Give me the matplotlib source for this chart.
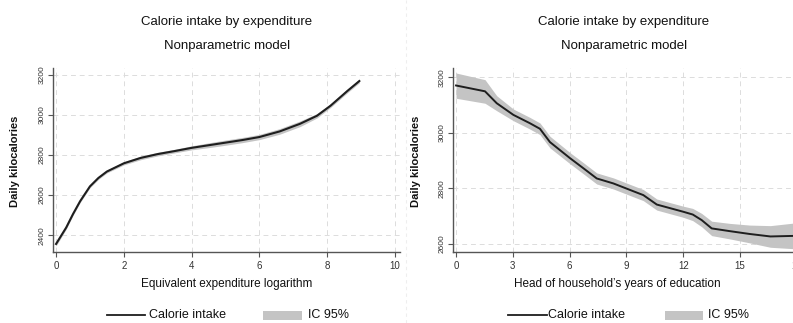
import matplotlib
matplotlib.use("Agg")
import matplotlib.pyplot as plt
from matplotlib.lines import Line2D
import numpy as np

plt.rcParams['font.family'] = ['Liberation Sans', 'DejaVu Sans']

# ---- Left panel: calorie intake by log equivalent expenditure ----
exp_x = [0.0, 0.3, 0.5, 0.71, 1.0, 1.25, 1.5, 2.0, 2.5, 3.0, 3.5, 4.0, 4.5,
         5.0, 5.5, 6.0, 6.6, 7.2, 7.7, 8.1, 8.6, 8.95]
exp_y = [2356, 2438, 2505, 2569, 2643, 2685, 2717, 2758, 2785, 2804, 2819,
         2835, 2848, 2861, 2874, 2889, 2917, 2955, 2995, 3045, 3119, 3168]
exp_lo = [2346, 2430, 2498, 2562, 2636, 2678, 2710, 2750, 2776, 2795, 2810,
          2825, 2836, 2848, 2861, 2876, 2903, 2941, 2984, 3036, 3110, 3159]
exp_hi = [2366, 2446, 2512, 2576, 2650, 2692, 2724, 2766, 2794, 2813, 2828,
          2845, 2860, 2874, 2887, 2902, 2931, 2969, 3006, 3054, 3128, 3177]

# ---- Right panel: calorie intake by head of household's years of education ----
edu_x = [0.0, 1.53, 2.15, 3.03, 3.9, 4.43, 4.96, 6.02, 6.72, 7.43, 8.31, 9.36,
         9.89, 10.6, 12.0, 12.5, 12.97, 13.5, 14.47, 15.5, 16.6, 17.8]
edu_y = [3171, 3150, 3107, 3065, 3035, 3015, 2967, 2909, 2873, 2836, 2818, 2790,
         2776, 2742, 2716, 2706, 2686, 2656, 2646, 2636, 2627, 2629]
edu_lo = [3125, 3107, 3080, 3044, 3014, 2994, 2946, 2889, 2853, 2816, 2798, 2770,
          2756, 2722, 2696, 2684, 2662, 2630, 2618, 2604, 2588, 2583]
edu_hi = [3216, 3192, 3134, 3086, 3056, 3036, 2988, 2929, 2893, 2856, 2838, 2810,
          2796, 2762, 2736, 2728, 2710, 2682, 2674, 2668, 2666, 2675]

left_xticks = [0, 2, 4, 6, 8, 10]
left_yticks = [2400, 2600, 2800, 3000, 3200]
right_xticks = [0, 3, 6, 9, 12, 15, 18]
right_yticks = [2600, 2800, 3000, 3200]

title1 = "Calorie intake by expenditure"
title2 = "Nonparametric model"
ylab = "Daily kilocalories"
xlab_left = "Equivalent expenditure logarithm"
xlab_right = "Head of household\u2019s years of education"

W, H = 793, 323
fig = plt.figure(figsize=(W / 100, H / 100), dpi=100)

def px_rect(l, t, r, b):
    return [l / W, 1 - b / H, (r - l) / W, (b - t) / H]

LINE_C = '#1e1e1e'
BAND_C = '#c4c4c4'
GRID_C = '#dcdcdc'
TICK_C = '#555555'

def style(ax, xticks, yticks):
    for s in ['top', 'right']:
        ax.spines[s].set_visible(False)
    for s in ['left', 'bottom']:
        ax.spines[s].set_color('#555555')
        ax.spines[s].set_linewidth(1.0)
    ax.set_xticks(xticks)
    ax.set_yticks(yticks)
    ax.grid(True, color=GRID_C, linestyle=(0, (5, 4)), linewidth=0.7)
    ax.set_axisbelow(True)
    ax.tick_params(axis='both', direction='out', length=3.5, width=0.8,
                   color=TICK_C, labelcolor='#333333')
    ax.tick_params(axis='x', labelsize=7, pad=3)
    ax.tick_params(axis='y', labelsize=6, pad=2)
    for lab in ax.get_yticklabels():
        lab.set_rotation(90)
        lab.set_va('center')

# Left axes
axL = fig.add_axes(px_rect(53, 68, 400, 252))
axL.fill_between(exp_x, exp_lo, exp_hi, color=BAND_C, linewidth=0)
axL.plot(exp_x, exp_y, color=LINE_C, linewidth=1.5)
axL.set_xlim(-0.09, 10.15)
axL.set_ylim(2316, 3233)
style(axL, left_xticks, left_yticks)

# Right axes (extends past the figure's right edge, as in the reference)
axR = fig.add_axes(px_rect(453, 68, 810, 252))
axR.fill_between(edu_x, edu_lo, edu_hi, color=BAND_C, linewidth=0)
axR.plot(edu_x, edu_y, color=LINE_C, linewidth=1.4)
axR.set_xlim(-0.16, 18.69)
axR.set_ylim(2571, 3234)
style(axR, right_xticks, right_yticks)

TXT_C = '#111111'
# Titles
for cx in (227, 624):
    fig.text(cx / W, 1 - 22 / H, title1, ha='center', va='center', fontsize=9.5, color=TXT_C)
    fig.text(cx / W, 1 - 46 / H, title2, ha='center', va='center', fontsize=9.5, color=TXT_C)

# Axis labels
fig.text(227 / W, 1 - 284 / H, xlab_left, ha='center', va='center', fontsize=8.5, color=TXT_C)
fig.text(617 / W, 1 - 284 / H, xlab_right, ha='center', va='center', fontsize=8.5, color=TXT_C)
fig.text(15 / W, 1 - 161 / H, ylab, ha='center', va='center', rotation=90, fontsize=8,
         color=TXT_C, fontweight='bold')
fig.text(416 / W, 1 - 161 / H, ylab, ha='center', va='center', rotation=90, fontsize=8,
         color=TXT_C, fontweight='bold')

# Faint divider between the two graphs
fig.add_artist(Line2D([406 / W, 406 / W], [0, 1], color='#eeeeee', linewidth=0.8,
                      linestyle=(0, (3, 3))))

# Legends
def legend_row(x0, x1, tx, bx0, bx1, tx2):
    y = 1 - 315 / H
    fig.add_artist(Line2D([x0 / W, x1 / W], [y, y], color=LINE_C, linewidth=1.3))
    fig.text(tx / W, y, "Calorie intake", ha='left', va='center', fontsize=9, color=TXT_C)
    fig.add_artist(plt.Rectangle((bx0 / W, 1 - 320 / H), (bx1 - bx0) / W, 9 / H,
                                 transform=fig.transFigure, color=BAND_C, linewidth=0))
    fig.text(tx2 / W, y, "IC 95%", ha='left', va='center', fontsize=9, color=TXT_C)

legend_row(107, 145, 149, 263, 302, 308)
legend_row(508, 547, 548, 665, 703, 708)

fig.savefig("out.png", dpi=100)
